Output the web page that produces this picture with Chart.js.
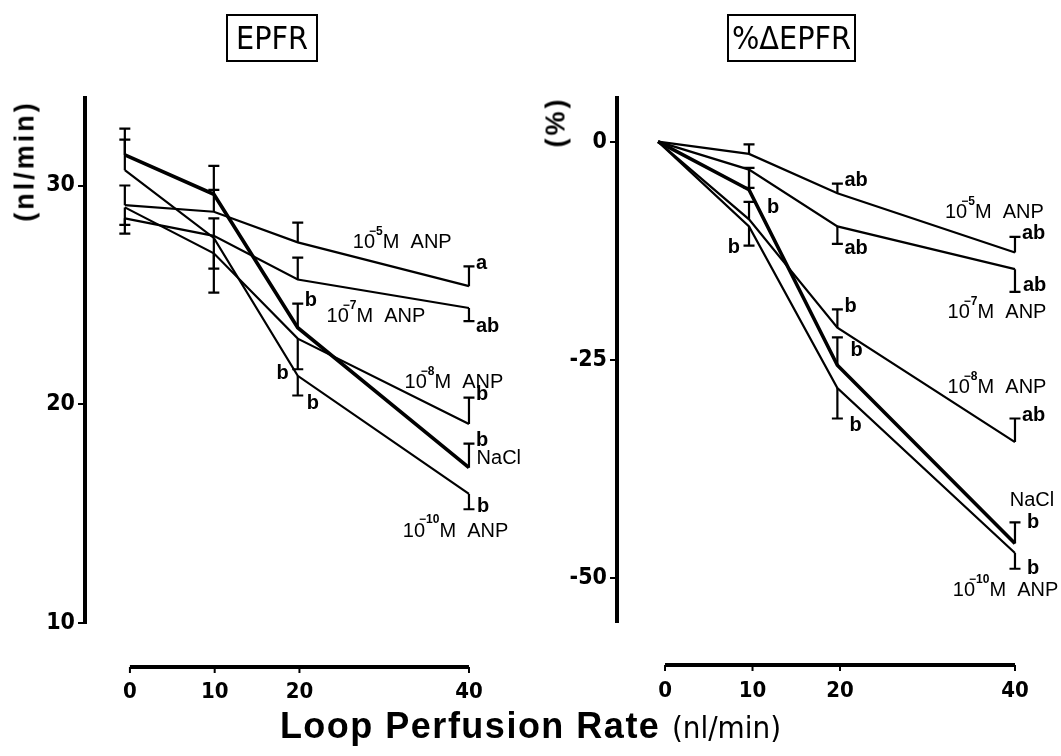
<!DOCTYPE html>
<html>
<head>
<meta charset="utf-8">
<script src="https://cdn.jsdelivr.net/npm/chart.js@4.4.1/dist/chart.umd.min.js"></script>
<style>
  body { margin: 0; background: #fff; }
  #wrap { position: relative; width: 1061px; height: 756px; overflow: hidden; color: #000; }
  canvas { position: absolute; top: 0; }
  .box { position: absolute; top: 14px; height: 44px; border: 2px solid #000; text-align: center;
         font: 32px 'Liberation Sans Narrow', 'DejaVu Sans Condensed', sans-serif; line-height: 44px; }
  .ytitle { position: absolute; transform: translate(-50%, -50%) rotate(-90deg); white-space: nowrap;
            font: bold 27px 'Liberation Sans', Arial, sans-serif; letter-spacing: 3px; }
  #xtitle { position: absolute; left: 0; width: 1061px; top: 705px; text-align: center; white-space: nowrap;
            font: bold 36px 'Liberation Sans', Arial, sans-serif; letter-spacing: 1.5px; }
  #xtitle span { font: 31px 'Liberation Sans Narrow', 'DejaVu Sans Condensed', sans-serif; letter-spacing: 0; }
</style>
</head>
<body>
<div id="wrap">
  <canvas id="left" width="530" height="756" style="left:0"></canvas>
  <canvas id="right" width="531" height="756" style="left:530px"></canvas>
  <div class="box" style="left:226px; width:88px;">EPFR</div>
  <div class="box" style="left:727px; width:125px;">%ΔEPFR</div>
  <div class="ytitle" style="left:25px; top:161px;">(nl/min)</div>
  <div class="ytitle" style="left:556px; top:122px;">(%)</div>
  <div id="xtitle">Loop Perfusion Rate <span>(nl/min)</span></div>
</div>
<script>
// x positions (nl/min) and tick values
const xTicks = [0, 10, 20, 40];
const xLeft = [-0.6, 9.9, 19.8, 40];
const xRight = [-0.8, 9.6, 19.7, 40];
const yTicksLeft = [10, 20, 30];
const yTicksRight = [0, -25, -50];
const seriesNames = ['10^-5 M ANP', '10^-7 M ANP', '10^-8 M ANP', 'NaCl', '10^-10 M ANP'];

// EPFR (nl/min): mean and end of error bar
const epfr5 = [29.1, 28.8, 27.4, 25.4];
const epfr7 = [28.5, 27.7, 25.7, 24.4];
const epfr8 = [29.0, 26.9, 23.0, 19.1];
const epfrNaCl = [31.4, 29.6, 23.5, 17.1];
const epfr10 = [30.7, 27.6, 21.3, 15.9];
const epfrErr5 = [30.0, 29.8, 28.3, 26.3];
const epfrErr7 = [27.8, 28.5, 26.7, 23.8];
const epfrErr8 = [28.2, 25.1, 21.6, 20.3];
const epfrErrNaCl = [32.6, 30.9, 24.6, 18.2];
const epfrErr10 = [32.1, 26.2, 20.4, 15.2];
const epfrSig5 = ['', '', '', 'a'];
const epfrSig7 = ['', '', '', 'ab'];
const epfrSig8 = ['', '', 'b', 'b'];
const epfrSigNaCl = ['', '', 'b', 'b'];
const epfrSig10 = ['', '', 'b', 'b'];

// %change EPFR
const pct5 = [0, -1.4, -5.9, -12.7];
const pct7 = [0, -3.2, -9.7, -14.6];
const pct8 = [0, -8.9, -21.3, -34.4];
const pctNaCl = [0, -5.5, -25.6, -46.0];
const pct10 = [0, -9.7, -28.2, -47.1];
const pctErr5 = [null, -0.3, -4.8, -10.9];
const pctErr7 = [null, -5.3, -11.7, -17.2];
const pctErr8 = [null, -6.9, -19.2, -31.7];
const pctErrNaCl = [null, -3.0, -22.4, -43.6];
const pctErr10 = [null, -11.9, -31.7, -48.9];
const pctSig5 = ['', '', 'ab', 'ab'];
const pctSig7 = ['', '', 'ab', 'ab'];
const pctSig8 = ['', '', 'b', 'ab'];
const pctSigNaCl = ['', 'b', 'b', 'b'];
const pctSig10 = ['', 'b', 'b', 'b'];

const NARROW = "'Liberation Sans Narrow', 'DejaVu Sans Condensed', sans-serif";
const SANS = "'Liberation Sans', Arial, sans-serif";

function buildDatasets(xs, vals) {
  return vals.map((v, k) => ({
    label: seriesNames[k],
    data: v.map((y, i) => ({ x: xs[i], y: y })),
    borderColor: '#000',
    borderWidth: k === 3 ? 3.6 : 2.2,
    pointRadius: 0,
    tension: 0,
    fill: false
  }));
}

function drawName(ctx, name, x, y) {
  const m = name.match(/^10\^-(\d+) (.*)$/);
  ctx.textBaseline = 'middle';
  ctx.textAlign = 'left';
  ctx.font = '20px ' + SANS;
  if (!m) { ctx.fillText(name, x, y); return; }
  ctx.fillText('10', x, y);
  let w = ctx.measureText('10').width;
  ctx.font = 'bold 12px ' + SANS;
  ctx.fillText('\u2212' + m[1], x + w - 6, y - 11);
  w += ctx.measureText('\u2212' + m[1]).width - 6;
  ctx.font = '20px ' + SANS;
  ctx.fillText(m[2].replace(' ', '  '), x + w, y);
}

function extras(cfg) {
  return {
    id: 'extras',
    afterDatasetsDraw(chart) {
      const { ctx, chartArea } = chart;
      const x = chart.scales.x, y = chart.scales.y;
      ctx.save();
      ctx.strokeStyle = '#000';
      ctx.fillStyle = '#000';
      cfg.vals.forEach((vals, k) => {
        vals.forEach((v, i) => {
          const e = cfg.errs[k][i];
          if (e == null) return;
          const px = x.getPixelForValue(cfg.xs[i]);
          const p0 = y.getPixelForValue(v), p1 = y.getPixelForValue(e);
          ctx.lineWidth = 2.2;
          ctx.beginPath();
          ctx.moveTo(px, p0); ctx.lineTo(px, p1);
          ctx.moveTo(px - 5.5, p1); ctx.lineTo(px + 5.5, p1);
          ctx.stroke();
          const s = cfg.sigs[k][i];
          if (!s) return;
          const ov = cfg.sigPlace.find(o => o.k === k && o.i === i) || {};
          const dx = ov.dx != null ? ov.dx : 7;
          const dy = ov.dy != null ? ov.dy : (p1 < p0 ? -3 : 5);
          ctx.font = 'bold 20px ' + SANS;
          ctx.textBaseline = 'middle';
          ctx.textAlign = dx < 0 ? 'right' : 'left';
          ctx.fillText(s, px + dx, p1 + dy);
        });
      });
      cfg.namePos.forEach((p, k) => drawName(ctx, seriesNames[k], x.getPixelForValue(p[0]), y.getPixelForValue(p[1])));
      // detached x axis below the plot
      const ay = chartArea.bottom + cfg.axisGap;
      ctx.lineWidth = 4;
      ctx.beginPath();
      ctx.moveTo(x.getPixelForValue(xTicks[0]), ay);
      ctx.lineTo(x.getPixelForValue(xTicks[xTicks.length - 1]), ay);
      ctx.stroke();
      ctx.lineWidth = 2;
      xTicks.forEach(t => {
        const px = x.getPixelForValue(t);
        ctx.beginPath(); ctx.moveTo(px, ay); ctx.lineTo(px, ay + 6); ctx.stroke();
      });
      ctx.restore();
    }
  };
}

function makeScales(o) {
  return {
    x: {
      type: 'linear', min: o.xmin, max: o.xmax,
      afterBuildTicks: s => { s.ticks = xTicks.map(v => ({ value: v })); },
      afterFit: s => { s.height = o.xHeight; s.paddingLeft = 0; s.paddingRight = 0; },
      grid: { display: false, drawTicks: true, tickLength: 54 },
      border: { display: false },
      ticks: { color: '#000', padding: 2, font: { family: NARROW, size: 22, weight: 'bold' } }
    },
    y: {
      type: 'linear', min: o.ymin, max: o.ymax,
      afterBuildTicks: s => { s.ticks = o.yTicks.map(v => ({ value: v })); },
      afterFit: s => { s.width = o.yWidth; s.paddingTop = 0; s.paddingBottom = 0; },
      grid: { drawOnChartArea: false, drawTicks: true, tickLength: 7, color: '#000', lineWidth: 2 },
      border: { display: true, color: '#000', width: 4 },
      ticks: { color: '#000', padding: 3, font: { family: NARROW, size: 23, weight: 'bold' },
               callback: v => String(v) }
    }
  };
}

function baseOptions(scales) {
  return {
    responsive: false, animation: false, events: [],
    layout: { padding: { top: 98, left: 0, right: 0, bottom: 0 } },
    plugins: { legend: { display: false }, tooltip: { enabled: false } },
    scales: scales
  };
}

const leftVals = [epfr5, epfr7, epfr8, epfrNaCl, epfr10];
new Chart(document.getElementById('left'), {
  type: 'line',
  data: { datasets: buildDatasets(xLeft, leftVals) },
  options: baseOptions(makeScales({ xmin: -5.3, xmax: 47.2, xHeight: 133, ymin: 10, ymax: 34, yTicks: yTicksLeft, yWidth: 85 })),
  plugins: [extras({
    xs: xLeft, vals: leftVals,
    errs: [epfrErr5, epfrErr7, epfrErr8, epfrErrNaCl, epfrErr10],
    sigs: [epfrSig5, epfrSig7, epfrSig8, epfrSigNaCl, epfrSig10],
    sigPlace: [{ k: 2, i: 2, dx: -9, dy: 4 }, { k: 4, i: 2, dx: 9, dy: 8 }, { k: 4, i: 3, dx: 8, dy: -3 }],
    namePos: [[26.3, 27.4], [23.2, 24.0], [32.4, 21.0], [40.9, 17.5], [32.2, 14.2]],
    axisGap: 44
  })]
});

const rightVals = [pct5, pct7, pct8, pctNaCl, pct10];
new Chart(document.getElementById('right'), {
  type: 'line',
  data: { datasets: buildDatasets(xRight, rightVals) },
  options: baseOptions(makeScales({ xmin: -5.49, xmax: 45.26, xHeight: 134, ymin: -55, ymax: 5, yTicks: yTicksRight, yWidth: 87 })),
  plugins: [extras({
    xs: xRight, vals: rightVals,
    errs: [pctErr5, pctErr7, pctErr8, pctErrNaCl, pctErr10],
    sigs: [pctSig5, pctSig7, pctSig8, pctSigNaCl, pctSig10],
    sigPlace: [{ k: 1, i: 3, dx: 8, dy: -6 },
               { k: 3, i: 1, dx: 18, dy: 40 }, { k: 3, i: 2, dx: 13, dy: 13 }, { k: 3, i: 3, dx: 12, dy: 0 },
               { k: 4, i: 1, dx: -9, dy: 2 }, { k: 4, i: 2, dx: 12, dy: 7 }, { k: 4, i: 3, dx: 12, dy: 0 }],
    namePos: [[32.0, -8.1], [32.3, -19.6], [32.3, -28.2], [39.4, -41.1], [32.9, -51.4]],
    axisGap: 43
  })]
});
</script>
</body>
</html>
